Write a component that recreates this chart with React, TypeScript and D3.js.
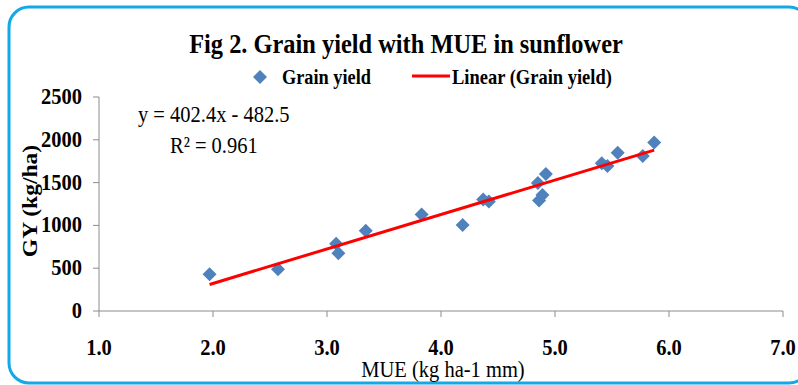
import React from "react";
import * as d3 from "d3";

// MUE (kg ha-1 mm) vs grain yield (kg/ha)
const mue = [1.97, 2.57, 3.08, 3.1, 3.34, 3.83, 4.19, 4.37, 4.42, 4.85, 4.86, 4.89, 4.92, 5.41, 5.46, 5.55, 5.77, 5.87];
const grainYield = [430, 487, 785, 675, 938, 1128, 1005, 1303, 1280, 1495, 1290, 1355, 1600, 1725, 1695, 1848, 1812, 1968];
const xTicks = [1, 2, 3, 4, 5, 6, 7];
const yTicks = [0, 500, 1000, 1500, 2000, 2500];
const slope = 402.4;
const intercept = -482.5;

const FONT = "'Liberation Serif', 'Times New Roman', serif";
const SY = 1.15; // the original picture is a bit stretched vertically

const Txt = ({ x, y, size, bold = false, anchor = "start", children }: any) => (
  <text
    transform={`translate(${x},${y}) scale(1,${SY})`}
    fontFamily={FONT}
    fontSize={size}
    fontWeight={bold ? "bold" : "normal"}
    textAnchor={anchor}
    fill="#000"
  >
    {children}
  </text>
);

export default function App() {
  const x = d3.scaleLinear().domain([1, 7]).range([99, 783]);
  const y = d3.scaleLinear().domain([0, 2500]).range([311, 97]);

  const pts = mue.map((m, i) => ({ m, g: grainYield[i] }));
  const diamond = d3.symbol().type(d3.symbolDiamond2).size(125)();

  const xMin = d3.min(mue) as number;
  const xMax = d3.max(mue) as number;
  const trend = d3
    .line<number>()
    .x((v) => x(v))
    .y((v) => y(slope * v + intercept))([xMin, xMax]);

  return (
    <svg width={798} height={385} style={{ position: "absolute", left: 0, top: 0 }}>
      <rect x={0} y={0} width={798} height={385} fill="#fff" />
      <rect x={9} y={7} width={800} height={376} rx={20} ry={20} fill="#fff" stroke="#14A8E6" strokeWidth={3} />

      <Txt x={406} y={53} size={24.4} bold anchor="middle">Fig 2. Grain yield with MUE in sunflower</Txt>

      {/* legend */}
      <path d={diamond} transform="translate(260,77)" fill="#4F81BD" />
      <Txt x={282} y={84} size={18.3} bold>Grain yield</Txt>
      <line x1={412} x2={450} y1={76} y2={76} stroke="#FF0000" strokeWidth={3} />
      <Txt x={452} y={84} size={18.5} bold>Linear (Grain yield)</Txt>

      {/* axes */}
      <line x1={x(1)} x2={x(1)} y1={y(0)} y2={y(2500)} stroke="#8c8c8c" />
      {yTicks.map((t) => (
        <g key={"y" + t}>
          <line x1={x(1) - 6} x2={x(1)} y1={y(t)} y2={y(t)} stroke="#8c8c8c" />
          <Txt x={82} y={y(t) + 7} size={20.5} bold anchor="end">{t}</Txt>
        </g>
      ))}
      <line x1={x(1)} x2={x(7)} y1={y(0)} y2={y(0)} stroke="#8c8c8c" />
      {xTicks.map((t) => (
        <g key={"x" + t}>
          <line x1={x(t)} x2={x(t)} y1={y(0)} y2={y(0) + 6} stroke="#8c8c8c" />
          <Txt x={x(t)} y={355} size={20.5} bold anchor="middle">{t.toFixed(1)}</Txt>
        </g>
      ))}

      <text
        transform={`translate(37,201) rotate(-90) scale(${SY},1)`}
        fontFamily={FONT}
        fontSize={20.5}
        fontWeight="bold"
        textAnchor="middle"
      >
        GY (kg/ha)
      </text>
      <Txt x={443} y={377} size={20.5} anchor="middle">MUE (kg ha-1 mm)</Txt>

      {/* points */}
      {pts.map((p, i) => (
        <path key={i} d={diamond} transform={`translate(${x(p.m)},${y(p.g)})`} fill="#4F81BD" />
      ))}
      <path d={trend || ""} fill="none" stroke="#FF0000" strokeWidth={3} />

      <Txt x={138} y={122} size={20.5}>y = 402.4x - 482.5</Txt>
      <Txt x={170} y={153} size={20.5}>R² = 0.961</Txt>
    </svg>
  );
}
